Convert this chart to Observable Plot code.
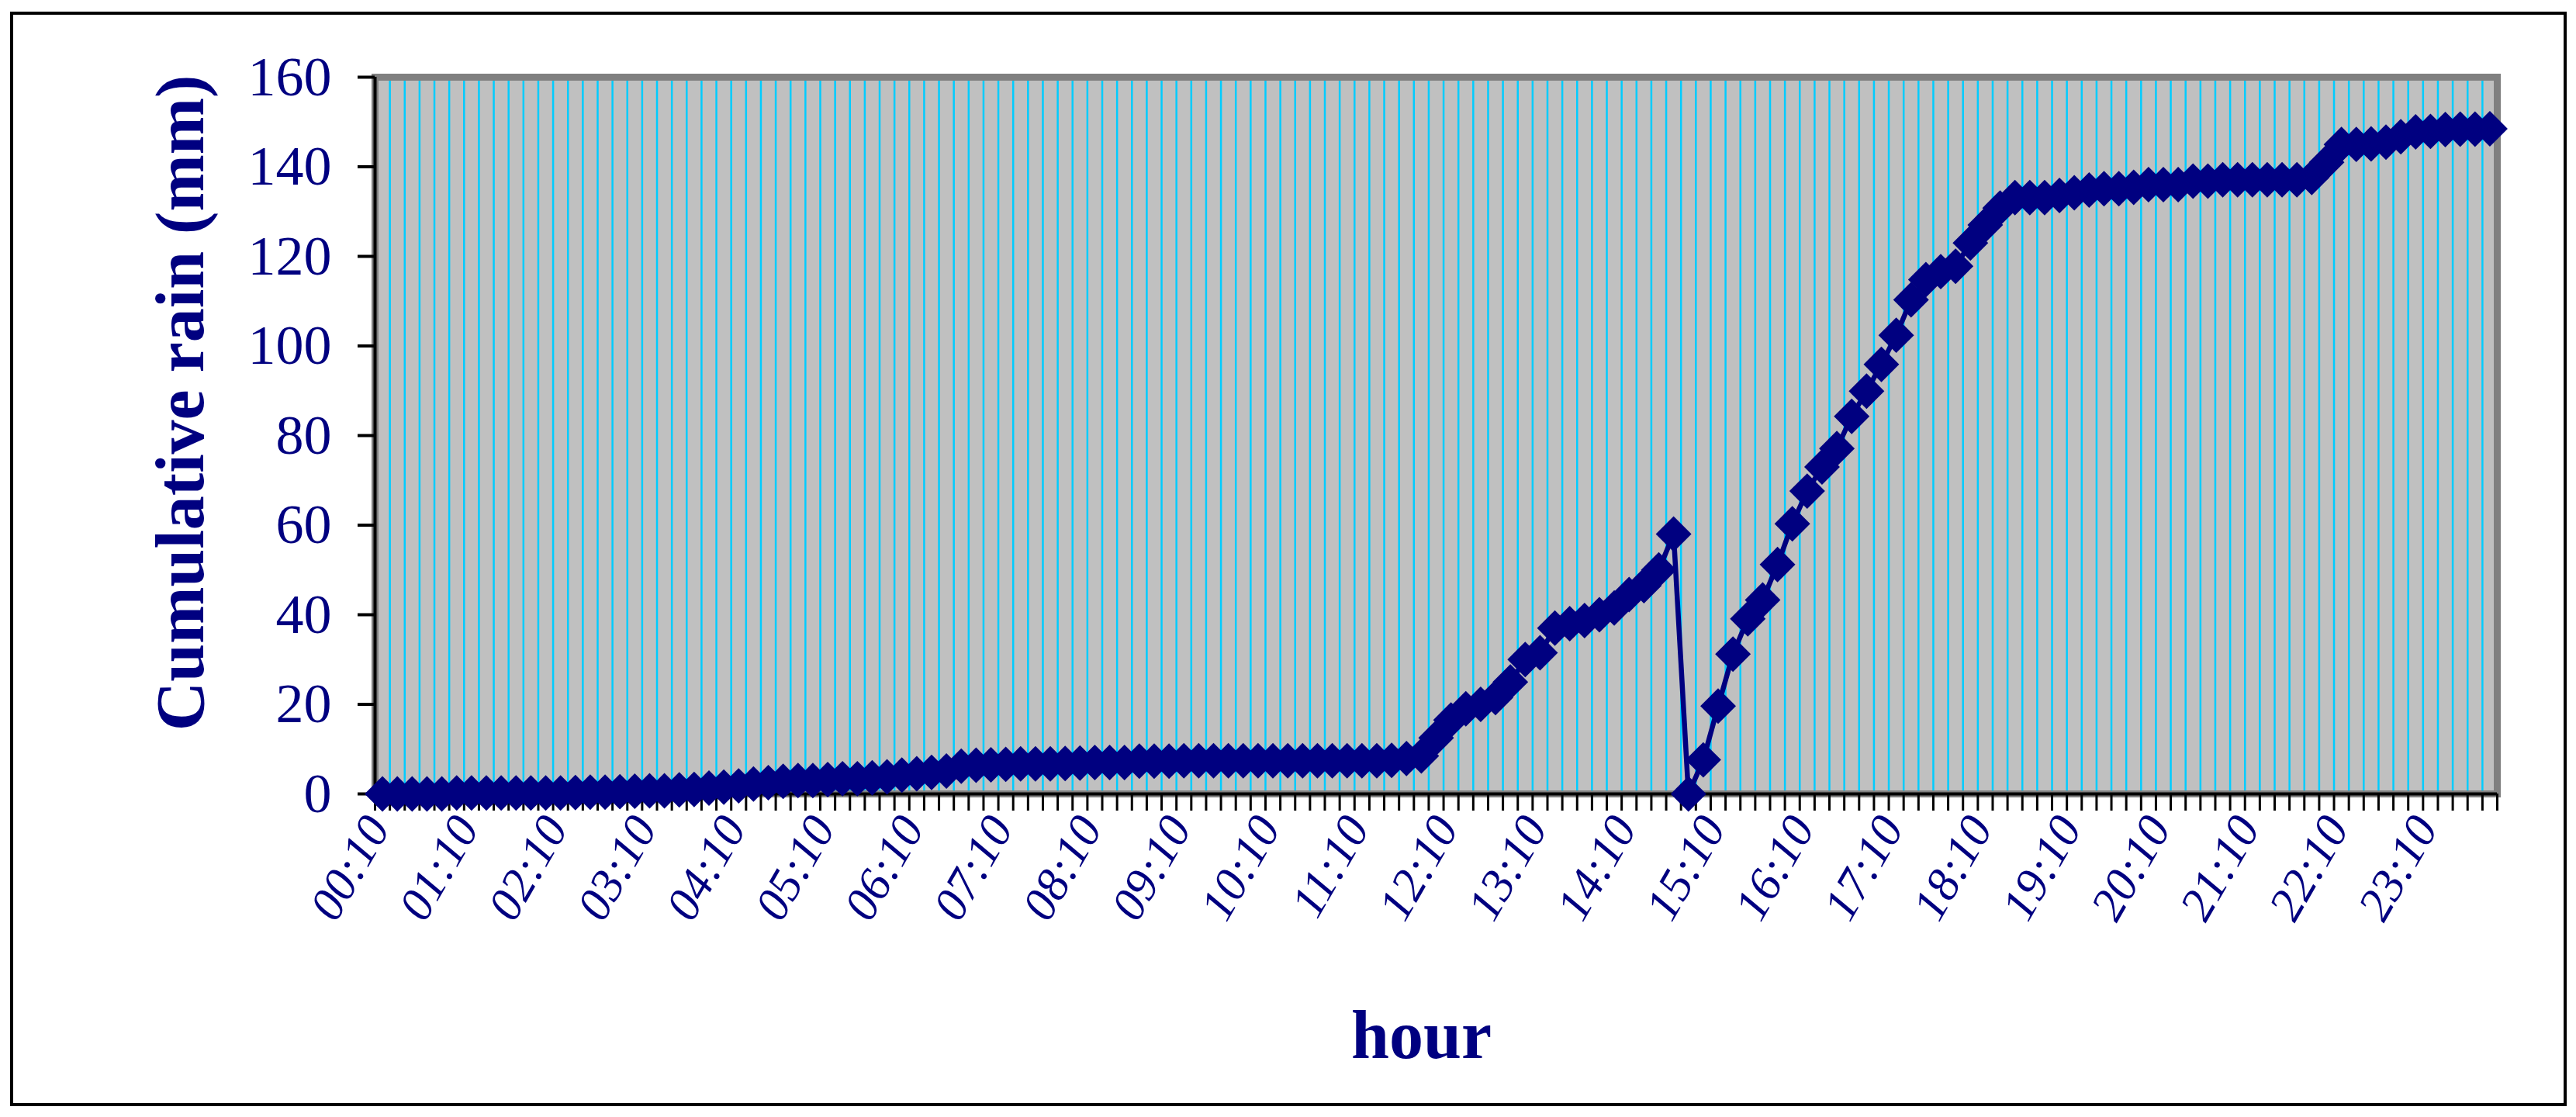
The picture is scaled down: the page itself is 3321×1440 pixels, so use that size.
<!DOCTYPE html>
<html>
<head>
<meta charset="utf-8">
<script src="https://cdn.jsdelivr.net/npm/d3@7"></script>
<script src="https://cdn.jsdelivr.net/npm/@observablehq/plot@0.6"></script>
<style>
html, body { margin: 0; padding: 0; background: #ffffff; }
#wrap { position: relative; width: 3321px; height: 1440px; overflow: hidden; background: #ffffff; }
#chart { position: absolute; left: 0; top: 0; }
#border { position: absolute; left: 13px; top: 15px; width: 3296px; height: 1411px; border: 4px solid #000; box-sizing: border-box; pointer-events: none; }
</style>
</head>
<body>
<div id="wrap"><div id="chart"></div><div id="border"></div></div>
<script>
// Cumulative rain (mm), one value every 10 minutes from 00:10
const rain = [
  0, 0, 0, 0, 0, 0.2, 0.2, 0.2, 0.2, 0.2,
  0.2, 0.2, 0.2, 0.3, 0.4, 0.4, 0.5, 0.6, 0.7, 0.7,
  0.9, 1.0, 1.3, 1.5, 1.8, 2.2, 2.5, 2.8, 3.0, 3.0,
  3.2, 3.4, 3.4, 3.6, 3.8, 4.2, 4.5, 4.8, 5.1, 6.2,
  6.4, 6.5, 6.6, 6.7, 6.7, 6.7, 6.8, 6.9, 7.0, 7.0,
  7.0, 7.3, 7.3, 7.3, 7.4, 7.4, 7.4, 7.4, 7.4, 7.4,
  7.4, 7.4, 7.4, 7.4, 7.4, 7.4, 7.4, 7.4, 7.5, 7.9,
  8.5, 12.5, 16.5, 19, 20, 21.5, 25, 30, 31.5, 37,
  38, 38.7, 40, 41.5, 44.5, 46.5, 50, 58, 0, 7.6,
  19.6, 31.2, 39.1, 43.3, 51.2, 60.3, 67.6, 73, 77.1, 84.3,
  89.9, 95.9, 102.4, 110.3, 114.8, 116.6, 117.8, 123, 127, 130.8,
  133.1, 133.1, 133.1, 133.6, 134.2, 134.8, 135.1, 135.1, 135.4, 136,
  136, 136, 136.8, 136.8, 137.1, 137.1, 137.1, 137.1, 137.1, 137.1,
  137.6, 141, 145, 145, 145.1, 145.5, 146.7, 147.8, 147.9, 148.3,
  148.4, 148.4, 148.5
];

// Category labels (10-minute steps starting 00:10)
const times = [];
for (let k = 0; k < rain.length; k++) {
  const m = 10 + 10 * k;
  times.push(String(Math.floor(m / 60)).padStart(2, "0") + ":" + String(m % 60).padStart(2, "0"));
}

const tickLabels = ["00:10","01:10","02:10","03:10","04:10","05:10","06:10","07:10","08:10","09:10","10:10","11:10",
                    "12:10","13:10","14:10","15:10","16:10","17:10","18:10","19:10","20:10","21:10","22:10","23:10"];
const yTicks = [0, 20, 40, 60, 80, 100, 120, 140, 160];
const yLabel = "Cumulative rain (mm)";
const xLabel = "hour";

const navy = "#000080";
const idx = rain.map((d, i) => i);
const tickIdx = tickLabels.map(t => times.indexOf(t));
const bounds = [...idx.map(i => i - 0.5), rain.length - 0.5];
const data = rain.map((v, i) => ({i, v, t: times[i]}));

const chart = Plot.plot({
  width: 3321,
  height: 1440,
  marginLeft: 483,
  marginRight: 102,
  marginTop: 99,
  marginBottom: 417,
  style: {fontFamily: "'Liberation Serif', 'Times New Roman', serif", color: navy, background: "transparent"},
  x: {type: "linear", domain: [-0.5, rain.length - 0.5]},
  y: {domain: [0, 160]},
  marks: [
    Plot.frame({fill: "#C0C0C0", stroke: null}),
    Plot.gridX(bounds, {stroke: "#00CCFF", strokeOpacity: 1, strokeWidth: 2.5}),
    Plot.frame({stroke: "#808080", strokeWidth: 9}),
    Plot.ruleY([0], {stroke: "#000000", strokeWidth: 4}),
    Plot.ruleX([-0.5], {stroke: "#000000", strokeWidth: 4}),
    Plot.axisY({ticks: yTicks, tickSize: 22, tickPadding: 34, fontSize: 72, stroke: "#000000", strokeWidth: 4, color: navy, label: null}),
    Plot.axisX({ticks: bounds, tickSize: 22, stroke: "#000000", strokeWidth: 3, fill: "none", tickFormat: () => "", label: null}),
    Plot.axisX({ticks: tickIdx, tickSize: 0, tickPadding: 34, tickRotate: -60, fontSize: 61, fontStyle: "italic",
                dx: -6, tickFormat: i => times[i], color: navy, label: null}),
    Plot.line(data, {x: "i", y: "v", stroke: navy, strokeWidth: 6.5}),
    Plot.dot(data, {x: "i", y: "v", symbol: "diamond2", r: 20.7, fill: navy, stroke: null}),
    Plot.text([yLabel], {text: d => d, frameAnchor: "left", textAnchor: "middle", dx: -250, dy: -42, rotate: -90,
                         fontSize: 88, fontWeight: "bold", fill: navy}),
    Plot.text([xLabel], {text: d => d, frameAnchor: "bottom", textAnchor: "middle", dx: -19, dy: 340,
                         fontSize: 88, fontWeight: "bold", fill: navy})
  ]
});
document.getElementById("chart").appendChild(chart);
</script>
</body>
</html>
